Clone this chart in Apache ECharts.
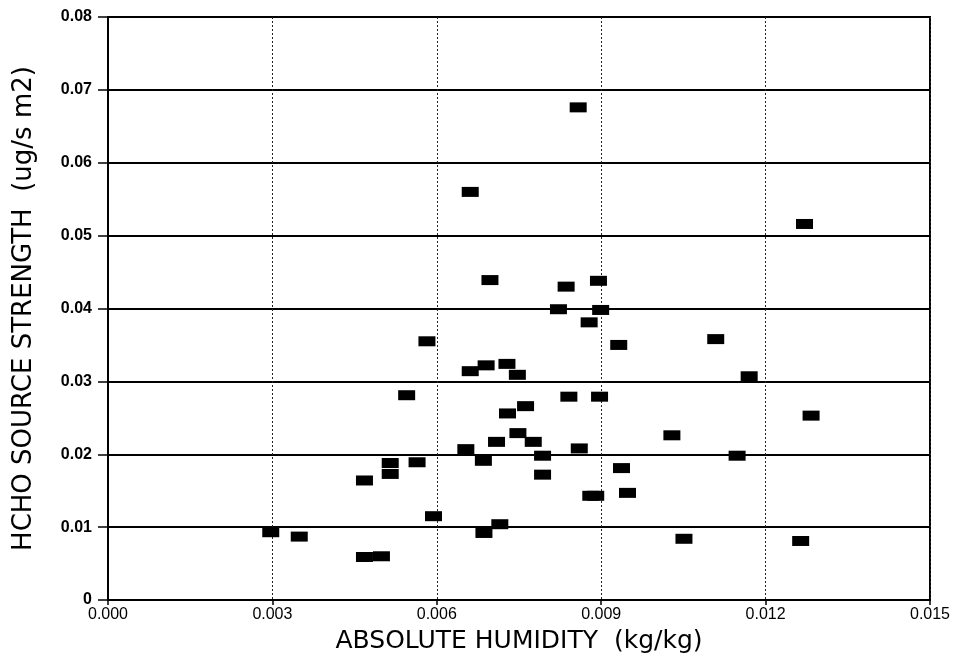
<!DOCTYPE html>
<html>
<head>
<meta charset="utf-8">
<script src="https://cdn.jsdelivr.net/npm/echarts@6/dist/echarts.min.js"></script>
<style>html,body{margin:0;padding:0;background:#fff;}#c{width:961px;height:664px;}</style>
</head>
<body>
<div id="c"></div>
<script>
const humidity = [0.00297,0.00349,0.00468,0.00499,0.00468,0.00515,0.00515,0.00564,0.00594,0.00545,
  0.00582,0.00661,0.00697,0.00836,0.00895,0.00822,0.00899,0.00878,0.00932,0.00661,
  0.00690,0.00728,0.00747,0.00841,0.00897,0.00762,0.00729,0.00748,0.00709,0.00776,
  0.00653,0.00860,0.00685,0.00793,0.00793,0.00881,0.00890,0.00937,0.00948,0.00715,
  0.00686,0.00858,0.01271,0.01109,0.01170,0.01283,0.01029,0.01148,0.01051,0.01264];
const strength = [0.0093,0.0087,0.0059,0.0060,0.0164,0.0188,0.0173,0.0189,0.0115,0.0281,
  0.0355,0.0560,0.0439,0.0430,0.0438,0.0399,0.0398,0.0381,0.0350,0.0314,
  0.0322,0.0324,0.0309,0.0279,0.0279,0.0266,0.0256,0.0229,0.0217,0.0217,
  0.0207,0.0208,0.0191,0.0198,0.0172,0.0143,0.0143,0.0181,0.0147,0.0104,
  0.0092,0.0676,0.0516,0.0358,0.0307,0.0253,0.0226,0.0198,0.0084,0.0081];
const xTitle = 'ABSOLUTE HUMIDITY  (kg/kg)';
const yTitle = 'HCHO SOURCE STRENGTH  (ug/s m2)';

const points = humidity.map((x, i) => [x, strength[i]]);
const font = 'Liberation Sans, Arial, Helvetica, sans-serif';
const titleFont = 'DejaVu Sans, Liberation Sans, sans-serif';
const chart = echarts.init(document.getElementById('c'), null, {renderer: 'canvas'});
chart.setOption({
  animation: false,
  backgroundColor: '#fff',
  grid: {left: 108, right: 31, top: 17, bottom: 64, show: true, borderColor: '#000', borderWidth: 2, backgroundColor: 'transparent'},
  xAxis: {
    type: 'value', min: 0, max: 0.015, interval: 0.003,
    name: xTitle, nameLocation: 'middle', nameGap: 29,
    nameTextStyle: {fontFamily: titleFont, fontSize: 25, color: '#000'},
    axisLine: {show: true, lineStyle: {color: '#000', width: 2}},
    axisTick: {show: true, length: 5, lineStyle: {color: '#000', width: 1.5}},
    axisLabel: {fontFamily: font, fontSize: 16, color: '#000', margin: 7, formatter: v => v.toFixed(3)},
    splitLine: {show: true, lineStyle: {color: '#222', width: 1, type: [2, 2]}}
  },
  yAxis: {
    type: 'value', min: 0, max: 0.08, interval: 0.01,
    name: yTitle, nameLocation: 'middle', nameGap: 71,
    nameTextStyle: {fontFamily: titleFont, fontSize: 26, color: '#000'},
    axisLine: {show: true, lineStyle: {color: '#000', width: 2}},
    axisTick: {show: true, length: 10, lineStyle: {color: '#000', width: 1.5}},
    axisLabel: {fontFamily: font, fontSize: 16, fontWeight: 'bold', color: '#000', margin: 16, formatter: v => v === 0 ? '0' : v.toFixed(2)},
    splitLine: {show: true, lineStyle: {color: '#000', width: 2}}
  },
  series: [{
    type: 'scatter',
    data: points,
    symbol: 'rect',
    symbolSize: [17, 10],
    itemStyle: {color: '#000', opacity: 1},
    silent: true
  }]
});
</script>
</body>
</html>
